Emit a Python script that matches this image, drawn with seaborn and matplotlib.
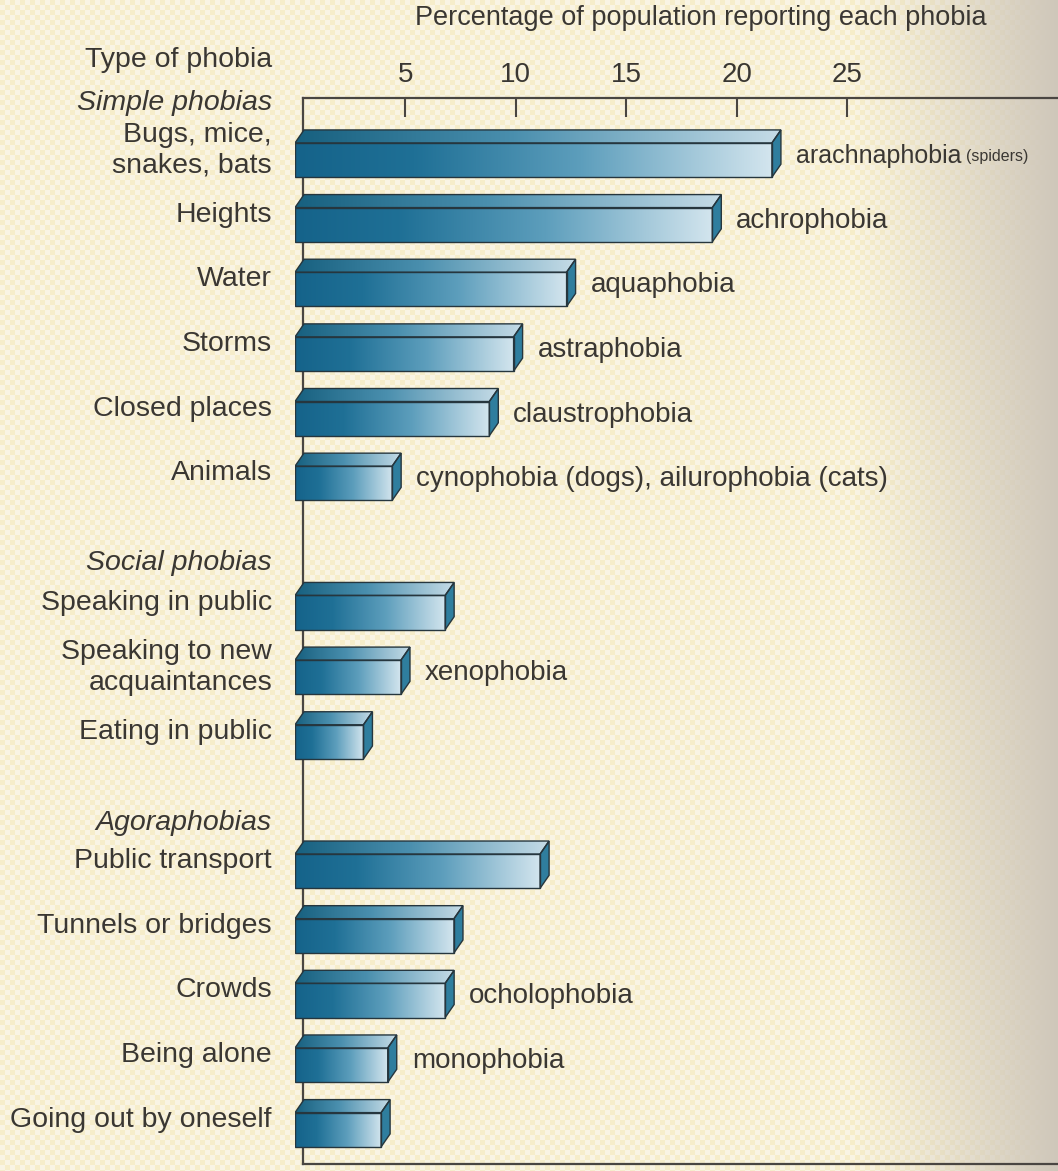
import numpy as np
import pandas as pd
import matplotlib
matplotlib.use("Agg")
import matplotlib.pyplot as plt
import seaborn as sns
from matplotlib.colors import LinearSegmentedColormap
from matplotlib.patches import Polygon

# ---- data -------------------------------------------------------------
simple_labels = ["Bugs, mice,\nsnakes, bats", "Heights", "Water", "Storms",
                 "Closed places", "Animals"]
simple_values = [21.6, 18.9, 12.3, 9.9, 8.8, 4.4]
simple_names = ["arachnaphobia", "achrophobia", "aquaphobia", "astraphobia",
                "claustrophobia", "cynophobia (dogs), ailurophobia (cats)"]

social_labels = ["Speaking in public", "Speaking to new\nacquaintances",
                 "Eating in public"]
social_values = [6.8, 4.8, 3.1]
social_names = ["", "xenophobia", ""]

agora_labels = ["Public transport", "Tunnels or bridges", "Crowds",
                "Being alone", "Going out by oneself"]
agora_values = [11.1, 7.2, 6.8, 4.2, 3.9]
agora_names = ["", "", "ocholophobia", "monophobia", ""]

group_titles = ["Simple phobias", "Social phobias", "Agoraphobias"]
spider_note = "(spiders)"
x_ticks = [5, 10, 15, 20, 25]
axis_title = "Percentage of population reporting each phobia"
row_title = "Type of phobia"

# ---- style ------------------------------------------------------------
W, H, DPI = 1058, 1171, 100
TEXT = "#3a3733"
SPINE = "#4a4642"
EDGE = "#26363e"
SIDE = "#2f7e9e"
DX, DY = 9, 13            # depth of the 3-D bars, in pixels
PX_PER_UNIT = 22.08

sns.set_theme(style="white")
plt.rcParams["font.family"] = ["Liberation Sans", "DejaVu Sans"]

front_cmap = LinearSegmentedColormap.from_list(
    "front", [(0.0, "#15638a"), (0.25, "#1f7096"), (0.6, "#5d9ebc"),
              (1.0, "#d3e5ee")])
top_cmap = LinearSegmentedColormap.from_list(
    "top", [(0.0, "#17607f"), (0.45, "#4a8fae"), (1.0, "#c6dce7")])

fig = plt.figure(figsize=(W / DPI, H / DPI), dpi=DPI)

# paper background: pale yellow halftone, shading towards the right edge
yy, xx = np.mgrid[0:H, 0:W]
base = np.array([248, 241, 215]) / 255
shade = np.array([207, 199, 186]) / 255
t = (np.clip((xx - 850) / (W - 850), 0, 1) ** 1.2)[..., None]
checker = ((((xx // 5) + (yy // 5)) % 2).astype(float) - 0.5)[..., None]
bg = base * (1 - t) + shade * t
bg = bg + checker * np.array([3, 7, 26]) / 255 * (1 - t)
fig.figimage(np.clip(bg, 0, 1), xo=0, yo=0, origin="upper", zorder=-10)
fig.patch.set_alpha(0)

left_px, top_px, bot_px = 295, 98, 1164
ax = fig.add_axes([left_px / W, 1 - bot_px / H, 1 - left_px / W,
                   (bot_px - top_px) / H])
ax.set_facecolor("none")

# ---- bars ------------------------------------------------------------
order = simple_labels + [" "] + social_labels + ["  "] + agora_labels
names = simple_names + [""] + social_names + [""] + agora_names
df = pd.DataFrame({
    "phobia": simple_labels + social_labels + agora_labels,
    "pct": simple_values + social_values + agora_values,
})
sns.barplot(data=df, x="pct", y="phobia", order=order, orient="h",
            width=0.53, color=SIDE, errorbar=None, ax=ax)

xmax = (W - left_px) / PX_PER_UNIT
ylim = (15.53, -0.96)
ax.set_xlim(0, xmax)
ax.set_ylim(*ylim)
ax.set_autoscale_on(False)

to_disp = ax.transData.transform
to_data = ax.transData.inverted().transform
grad = np.linspace(0, 1, 256)[None, :]

for p in list(ax.patches):
    x0, w = p.get_x(), p.get_width()
    y0, h = p.get_y(), p.get_height()
    if not np.isfinite(w) or w <= 0:
        continue
    p.set_facecolor("none")
    p.set_edgecolor(EDGE)
    p.set_linewidth(1.0)
    p.set_zorder(5)
    ax.imshow(grad, extent=(x0, x0 + w, y0 + h, y0), aspect="auto",
              cmap=front_cmap, clip_path=p, zorder=3,
              interpolation="bilinear")

    (X0, Ya), (X1, Yb) = to_disp([(x0, y0), (x0 + w, y0 + h)])
    Yt, Yb2 = max(Ya, Yb), min(Ya, Yb)
    top = to_data([(X0, Yt), (X1, Yt), (X1 + DX, Yt + DY), (X0 + DX, Yt + DY)])
    side = to_data([(X1, Yt), (X1 + DX, Yt + DY), (X1 + DX, Yb2 + DY), (X1, Yb2)])

    top_poly = Polygon(top, closed=True, facecolor="none", edgecolor=EDGE,
                       linewidth=1.0, zorder=5)
    ax.add_patch(top_poly)
    tx0, tx1 = top[:, 0].min(), top[:, 0].max()
    ty0, ty1 = top[:, 1].min(), top[:, 1].max()
    ax.imshow(grad, extent=(tx0, tx1, ty1, ty0), aspect="auto",
              cmap=top_cmap, clip_path=top_poly, zorder=3,
              interpolation="bilinear")
    ax.add_patch(Polygon(side, closed=True, facecolor=SIDE, edgecolor=EDGE,
                         linewidth=1.0, zorder=4))

ax.set_xlim(0, xmax)
ax.set_ylim(*ylim)

# ---- axes frame ------------------------------------------------------------
for s in ("top", "bottom", "left"):
    ax.spines[s].set_color(SPINE)
    ax.spines[s].set_linewidth(1.6)
    ax.spines[s].set_zorder(2)
ax.spines["right"].set_visible(False)
ax.spines["left"].set_position(("outward", -(DX - 1) * 72 / DPI))
spine_x = (DX - 1) / PX_PER_UNIT
ax.spines["top"].set_bounds(spine_x, xmax)
ax.spines["bottom"].set_bounds(spine_x, xmax)

ax.xaxis.tick_top()
ax.set_xticks(x_ticks)
ax.set_xticklabels([str(v) for v in x_ticks])
ax.tick_params(axis="x", direction="in", length=14, width=1.5, color=SPINE,
               pad=7, labelsize=20, labelcolor=TEXT)
ax.tick_params(axis="y", left=False, labelleft=False)
ax.set_xlabel("")
ax.set_ylabel("")
ax.grid(False)

# ---- category labels -------------------------------------------------------
for i, lab in enumerate(order):
    if not lab.strip():
        continue
    ax.annotate(lab, xy=(0, i), xycoords=("axes fraction", "data"),
                xytext=(-23, 10), textcoords="offset pixels", ha="right",
                va="center", fontsize=20.5, color=TEXT, linespacing=1.25,
                multialignment="right", annotation_clip=False)

group_starts = [0, len(simple_labels) + 1,
                len(simple_labels) + len(social_labels) + 2]
group_shift = [0.88, 0.77, 0.74]
for title, start, shift in zip(group_titles, group_starts, group_shift):
    ax.annotate(title, xy=(0, start - shift), xycoords=("axes fraction", "data"),
                xytext=(-23, 0), textcoords="offset pixels", ha="right",
                va="center", fontsize=20.5, style="italic", color=TEXT,
                annotation_clip=False)

# ---- phobia names at the bar ends --------------------------------------------
values = simple_values + [np.nan] + social_values + [np.nan] + agora_values
for i, (name, val) in enumerate(zip(names, values)):
    if not name:
        continue
    size = 18 if i == 0 else 20
    t1 = ax.annotate(name, xy=(val, i), xytext=(24, 4),
                     textcoords="offset pixels", ha="left", va="center",
                     fontsize=size, color=TEXT, annotation_clip=False)
    if i == 0:
        ax.annotate(spider_note, xy=(1, 0.5), xycoords=t1, xytext=(5, 0),
                    textcoords="offset pixels", ha="left", va="center",
                    fontsize=11.5, color=TEXT)

# ---- titles ---------------------------------------------------------------
fig.text(415 / W, 1 - 18 / H, axis_title, ha="left", va="center",
         fontsize=19.5, color=TEXT)
fig.text(272 / W, 1 - 60 / H, row_title, ha="right", va="center",
         fontsize=20.5, color=TEXT)

fig.savefig("out.png", dpi=DPI)
